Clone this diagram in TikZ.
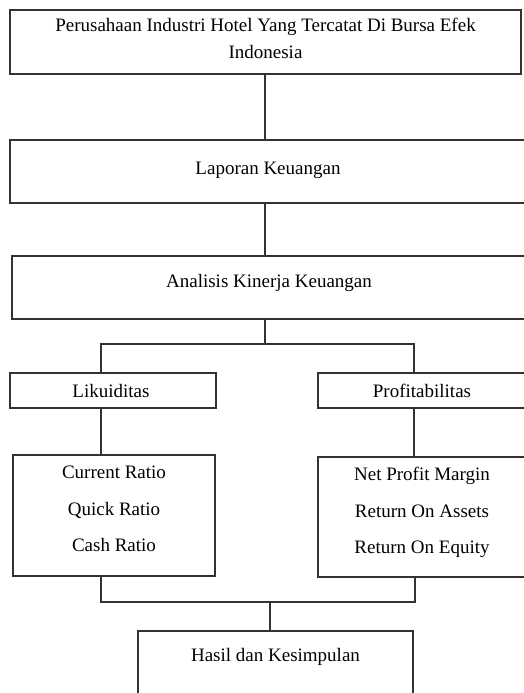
\documentclass[tikz,border=0pt]{standalone}
\usepackage{fontspec}
\setmainfont{Liberation Serif}
\begin{document}
\begin{tikzpicture}[x=1pt,y=-1pt,
  box/.style={draw=black!80, line width=1.2pt, rectangle, inner sep=0pt},
  txt/.style={align=center, font=\fontsize{19}{27}\selectfont},
  lst/.style={align=center, font=\fontsize{19}{36.5}\selectfont},
  conn/.style={draw=black!80, line width=1.2pt}]
\useasboundingbox (0,0) rectangle (524,693);
\clip (0,0) rectangle (524,693);
\fill[white] (0,0) rectangle (524,693);

\node[box, minimum width=511pt, minimum height=64pt,
  label={[txt, yshift=3.5pt]center:{Perusahaan Industri Hotel Yang Tercatat Di Bursa Efek\\Indonesia}}] (b1) at (265.5,42) {};
\node[box, minimum width=516pt, minimum height=63pt,
  label={[txt, yshift=1.5pt]center:Laporan Keuangan}] (b2) at (268,171.5) {};
\node[box, minimum width=514pt, minimum height=63pt,
  label={[txt, yshift=4.5pt]center:Analisis Kinerja Keuangan}] (b3) at (269,287.5) {};
\node[box, minimum width=206pt, minimum height=35pt,
  label={[txt, xshift=-2pt]center:Likuiditas}] (lik) at (113,390.5) {};
\node[box, minimum width=208pt, minimum height=35pt,
  label={[txt]center:Profitabilitas}] (prof) at (422,390.5) {};
\node[box, minimum width=202pt, minimum height=121pt,
  label={[lst, yshift=6.5pt]center:{Current Ratio\\Quick Ratio\\Cash Ratio}}] (ll) at (114,515.5) {};
\node[box, minimum width=208pt, minimum height=120pt,
  label={[lst, yshift=4.3pt]center:{Net Profit Margin\\Return On Assets\\Return On Equity}}] (rl) at (422,517) {};
\node[box, minimum width=275pt, minimum height=69pt,
  label={[txt, yshift=8.5pt]center:Hasil dan Kesimpulan}] (hs) at (275.5,665.5) {};

\coordinate (m1) at (265,344);
\coordinate (s1) at (101,344);
\coordinate (s2) at (414,344);
\coordinate (j1) at (101,602);
\coordinate (j2) at (415,602);
\coordinate (j3) at (270,602);

\draw[conn] (b1.south -| m1) -- (b2.north -| m1);
\draw[conn] (b2.south -| m1) -- (b3.north -| m1);
\draw[conn] (b3.south -| m1) -- (m1);
\draw[conn] (lik.north -| s1) -- (s1) -- (s2) -- (prof.north -| s2);
\draw[conn] (lik.south -| s1) -- (ll.north -| s1);
\draw[conn] (prof.south -| s2) -- (rl.north -| s2);
\draw[conn] (ll.south -| j1) -- (j1) -- (j2) -- (rl.south -| j2);
\draw[conn] (j3) -- (hs.north -| j3);
\end{tikzpicture}
\end{document}
